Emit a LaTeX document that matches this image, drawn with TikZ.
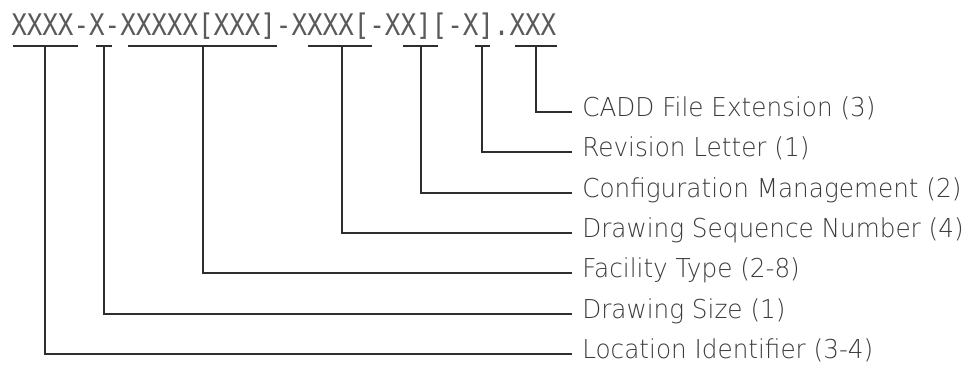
\documentclass[tikz,border=0pt]{standalone}
\usepackage{fontspec}
\usepackage{graphicx}
\setmainfont{DejaVu Sans ExtraLight}[FakeStretch=0.95]
\setmonofont{DejaVu Sans Mono}
\usepackage{tikz}
\usetikzlibrary{
  calc,
  positioning
}
\definecolor{ink}{HTML}{2E2E2E}
\definecolor{textgrey}{HTML}{3A3A3A}
\definecolor{codegrey}{HTML}{5A5A5A}
\tikzset{
  underline/.style={
    line width=1.1pt,
    draw=ink
  },
  lead/.style={
    line width=1.1pt,
    draw=ink
  },
  fieldlabel/.style={
    anchor=west,
    inner sep=0pt,
    text height=0.729em,
    text depth=0pt,
    text=textgrey,
    font=\fontsize{19.5pt}{22pt}\selectfont
  },
  codestring/.style={
    anchor=base west,
    inner sep=0pt,
    text=codegrey,
    font=\ttfamily\fontsize{19.4pt}{22pt}\selectfont
  }
}

\begin{document}
\begin{tikzpicture}[x=0.75pt,y=-0.75pt]
  \useasboundingbox (0,0) rectangle (979,368);

  % File name pattern.
  \node[codestring] (code) at (11,35)
    {\scalebox{1}[1.15]{XXXX-X-XXXXX[XXX]-XXXX[-XX][-X].XXX}};

  % Field underlines.
  \draw[underline] (13,46) -- (78,46);
  \draw[underline] (96,46) -- (112,46);
  \draw[underline] (128,46) -- (277,46);
  \draw[underline] (308,46) -- (372,46);
  \draw[underline] (403,46) -- (438,46);
  \draw[underline] (475,46) -- (490,46);
  \draw[underline] (515,46) -- (557,46);

  \coordinate (loc) at (45,46);
  \coordinate (size) at (104,46);
  \coordinate (fac) at (203,46);
  \coordinate (seq) at (342,46);
  \coordinate (conf) at (421,46);
  \coordinate (rev) at (482,46);
  \coordinate (ext) at (536,46);

  % Field labels.
  \node[fieldlabel] (extlabel) at (582,112) {CADD File Extension (3)};
  \node[fieldlabel] (revlabel) at (582,152) {Revision Letter (1)};
  \node[fieldlabel] (conflabel) at (582,193) {Configuration Management (2)};
  \node[fieldlabel] (seqlabel) at (582,233) {Drawing Sequence Number (4)};
  \node[fieldlabel] (faclabel) at (582,273) {Facility Type (2-8)};
  \node[fieldlabel] (sizelabel) at (582,314) {Drawing Size (1)};
  \node[fieldlabel] (loclabel) at (582,354) {Location Identifier (3-4)};

  % Leaders from fields to labels.
  \draw[lead] (ext) |- ([xshift=-7.5pt]extlabel.west);
  \draw[lead] (rev) |- ([xshift=-7.5pt]revlabel.west);
  \draw[lead] (conf) |- ([xshift=-7.5pt]conflabel.west);
  \draw[lead] (seq) |- ([xshift=-7.5pt]seqlabel.west);
  \draw[lead] (fac) |- ([xshift=-7.5pt]faclabel.west);
  \draw[lead] (size) |- ([xshift=-7.5pt]sizelabel.west);
  \draw[lead] (loc) |- ([xshift=-7.5pt]loclabel.west);
\end{tikzpicture}
\end{document}
